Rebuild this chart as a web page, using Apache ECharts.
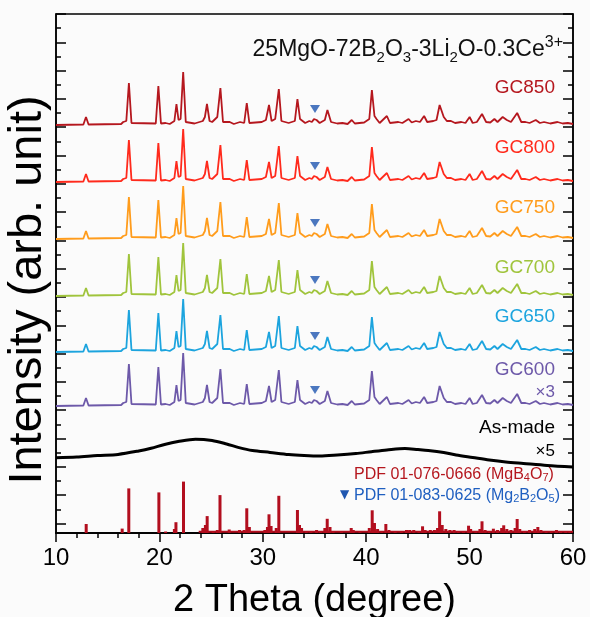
<!DOCTYPE html>
<html>
<head>
<meta charset="utf-8">
<script src="https://cdn.jsdelivr.net/npm/echarts@6/dist/echarts.min.js"></script>
<style>
html,body{margin:0;padding:0;background:#fff;}
#c{width:590px;height:617px;}
</style>
</head>
<body>
<div id="c"></div>
<script>
// ---------- DATA ----------
const xTicks = [10, 20, 30, 40, 50, 60];
const traceNames = ['GC850', 'GC800', 'GC750', 'GC700', 'GC650', 'GC600'];
const traceOffsets = [408, 351, 294, 237, 181, 127];          // baseline of each pattern (arb. units)
const traceColors = ['#b5171e', '#ff2a1c', '#ff9c1c', '#a0c43c', '#1ca4de', '#6d59a9'];
// crystallized pattern profile: [2theta, intensity above baseline]
const gcProfile = [
  [10,0],[12.65,0.5],[12.9,8],[13.15,0.5],
  [16.3,1],[16.5,3],[16.8,4],[17.05,42],[17.3,2],
  [19.65,1.5],[19.9,39],[20.15,1.5],[20.6,2],[21.0,1],
  [21.45,4],[21.65,21],[21.85,5],[22.05,6],[22.3,53],[22.55,3],
  [23.4,1.5],[24.2,4],[24.4,8],[24.6,21],[24.85,4],[25.1,3],[25.6,8],[25.9,37],[26.15,3],
  [26.8,3],[27.2,1],[27.8,3],[28.2,2],[28.45,22],[28.7,2],
  [29.9,3],[30.3,5],[30.6,20],[30.85,4],[31.2,6],[31.55,36],[31.8,4],
  [32.5,2],[33.1,4],[33.35,26],[33.6,6],[33.75,5],[34.1,2],[34.5,4],[34.75,3],[34.95,6],[35.2,5],[35.5,2],[36.0,5],[36.25,15],[36.6,3],
  [37.2,1.5],[37.7,2],[38.2,1],[38.6,5],[38.9,1.5],
  [39.8,2.5],[40.3,6],[40.55,35],[40.8,9],[41.0,6],[41.3,2],[42.0,9],[42.3,2],
  [43.1,3],[43.5,2],[44.1,6],[44.4,2.5],[44.8,4],[45.2,3],[45.6,9],[45.9,3],[46.5,4],[46.8,5],[47.1,20],[47.5,8],[47.8,4],[48.2,4],[48.6,2],
  [49.2,3],[49.6,2],[50.0,8],[50.3,2],[50.7,3],[51.2,11],[51.6,3],[52.0,2.5],[52.4,6],[52.7,3],[53.2,8],[53.6,5],[54.0,3],[54.6,12],[55.0,3],
  [55.4,3],[55.8,2],[56.4,5],[56.8,2],[57.2,3],[57.8,1.5],[58.5,3],[59.0,1.5],[59.5,2],[60,1]
];
const mg2b2o5Peak = [35.05, 16];  // [2theta, height above baseline] of the ▼ mark
// as-made glass (x5)
const asMadeTheta = [10,12,14,16,18,19.2,20.5,21.8,23.5,25.1,26.5,27.7,29,30.7,32.5,34,35.5,37.2,39,40.5,42,43.75,45,46,47.5,48.7,50.3,51.9,53.5,55.2,57.5,60];
const asMadeInt   = [75.2,76,77.5,78.6,82,84.7,88.5,91.4,93.8,92.5,89,85.4,82.5,80.6,78.5,77.5,77,78,79.5,81.3,83,84.5,83.5,82.6,80.5,78,75.5,73,71,69.5,67.5,66];
// PDF 01-076-0666 (MgB4O7) stick pattern
const pdfSticks = [
  [12.92,9],[16.4,4.4],[17.04,44.6],[19.95,40.6],[20.6,1.5],[21.45,4],[21.6,10.8],[22.33,51.4],[24.2,5],[24.45,8],[24.62,16.9],
  [25.2,2],[25.6,3],[25.86,37.9],[26.75,3.5],[27.75,3],[28.2,3],[28.45,24.7],[28.7,6],[30.2,3],[30.45,6],[30.6,18.7],[30.8,7],
  [31.3,5],[31.55,37.2],[33.35,23],[33.55,8],[33.75,5],[34.2,2],[34.65,2],[35.2,3],[35.6,2],[36.0,5],[36.23,14.2],[36.5,6],[36.8,2],
  [37.6,2],[38.55,5],[38.75,3],[39.4,2],[40.3,5],[40.58,22.7],[40.8,10],[41.1,4],[41.5,2],[41.9,9],[42.2,3],[42.8,2],[43.4,2],
  [43.9,3],[44.2,3],[44.6,3],[45.1,2],[45.45,6.7],[45.7,3],[46.2,3],[46.6,3],[46.9,5],[47.1,21.7],[47.35,8],[47.7,4],[48.1,3],
  [48.5,3],[48.9,2],[49.4,2],[49.9,7.3],[50.1,4],[50.6,2],[51.0,4],[51.2,11.7],[51.5,3],[51.9,2],[52.3,4.3],[52.7,3],[53.1,5],
  [53.3,7.7],[53.6,4],[54.0,3],[54.4,5],[54.6,14],[54.85,4],[55.3,2],[55.8,3],[56.3,4],[56.6,6],[56.9,3],[57.4,2],[57.9,2],
  [58.4,3],[58.8,2],[59.3,2],[59.7,2]
];
const pdfFloor = [[23.8,1.2],[60,1.2]];
const yMax = 519, yMajorStep = 28.3;

// ---------- BUILD ----------
const FONT = '"Liberation Sans", Arial, sans-serif';
const yMajors = [], yMinors = [];
for (let v = yMax; v >= 0; v -= yMajorStep) yMajors.push(+v.toFixed(2));
for (let v = yMax - yMajorStep / 2; v >= 0; v -= yMajorStep) yMinors.push(+v.toFixed(2));

const series = [];
traceNames.forEach((n, i) => {
  series.push({
    name: n, type: 'line', showSymbol: false, symbol: 'none', animation: false,
    data: gcProfile.map(p => [p[0], traceOffsets[i] + p[1]]),
    lineStyle: { color: traceColors[i], width: 1.8 }, z: 3
  });
});
series.push({
  name: 'Mg2B2O5', type: 'scatter', symbol: 'triangle', symbolRotate: 180, symbolSize: [10, 8],
  itemStyle: { color: '#1f56b0' }, animation: false, z: 5,
  data: traceOffsets.map(o => [mg2b2o5Peak[0], o + mg2b2o5Peak[1]])
});
series.push({
  name: 'As-made', type: 'line', showSymbol: false, symbol: 'none', animation: false, smooth: 0.3,
  data: asMadeTheta.map((t, i) => [t, asMadeInt[i]]),
  lineStyle: { color: '#000', width: 3 }
});
series.push({
  name: 'PDF 01-076-0666', type: 'bar', barWidth: 3, animation: false, barGap: '-100%',
  data: pdfSticks, itemStyle: { color: '#b20e1e' }
});
series.push({
  name: 'floor', type: 'line', showSymbol: false, symbol: 'none', animation: false,
  data: pdfFloor, lineStyle: { color: '#b20e1e', width: 2 }
});

function yAx(pos, ticks, len, extra) {
  return Object.assign({
    type: 'value', min: 0, max: yMax, position: pos, gridIndex: 0,
    axisLine: { show: false },
    axisTick: { show: true, inside: true, length: len, customValues: ticks, lineStyle: { color: '#000', width: 1.5 } },
    axisLabel: { show: false }, splitLine: { show: false }
  }, extra || {});
}

const option = {
  backgroundColor: '#fbfbfb',
  animation: false,
  grid: { left: 56, top: 14, width: 517, height: 519, show: true, borderColor: '#000', borderWidth: 1.5, backgroundColor: 'transparent', outerBoundsMode: 'none' },
  xAxis: [
    {
      type: 'value', min: xTicks[0], max: xTicks[xTicks.length - 1], interval: 10, position: 'bottom',
      axisLine: { show: true, lineStyle: { color: '#000', width: 1.5 } },
      axisTick: { show: true, inside: false, length: 9, lineStyle: { color: '#000', width: 1.5 } },
      minorTick: { show: true, splitNumber: 5, length: 5, lineStyle: { color: '#000', width: 1.5 } },
      axisLabel: { fontSize: 24, color: '#000', margin: 13, fontFamily: FONT },
      splitLine: { show: false },
      name: '2 Theta (degree)', nameLocation: 'middle', nameGap: 49,
      nameTextStyle: { fontSize: 38, color: '#000', fontFamily: FONT }
    },
    {
      type: 'value', min: xTicks[0], max: xTicks[xTicks.length - 1], interval: 10, position: 'top',
      axisLine: { show: true, lineStyle: { color: '#000', width: 1.5 } },
      axisTick: { show: true, inside: true, length: 6, lineStyle: { color: '#000', width: 1.5 } },
      minorTick: { show: true, splitNumber: 5, length: 4, lineStyle: { color: '#000', width: 1.5 } },
      axisLabel: { show: false }, splitLine: { show: false }
    }
  ],
  yAxis: [
    yAx('left', yMajors, 10, { axisLine: { show: true, lineStyle: { color: '#000', width: 1.5 } } }),
    yAx('left', yMinors, 5),
    yAx('right', yMajors, 10, { axisLine: { show: true, lineStyle: { color: '#000', width: 1.5 } } }),
    yAx('right', yMinors, 5)
  ],
  series: series,
  graphic: [
    { type: 'text', x: 28, y: 290, rotation: Math.PI / 2, style: {
        text: 'Intensity (arb. unit)', align: 'center', verticalAlign: 'middle', fill: '#000', font: '47px ' + FONT
    } },
    { type: 'text', x: 563, y: 50, style: {
        text: '25MgO-72B{s|2}O{s|3}-3Li{s|2}O-0.3Ce{p|3+}', align: 'right', verticalAlign: 'middle',
        fill: '#111', font: '23px ' + FONT,
        rich: { s: { fontSize: 15, fontFamily: FONT, verticalAlign: 'bottom', lineHeight: 25 }, p: { fontSize: 16, fontFamily: FONT, verticalAlign: 'top', lineHeight: 31 } }
    } },
    ...traceNames.map((n, i) => ({
      type: 'text', x: 555, y: [88, 148, 208, 268, 317, 370][i],
      style: { text: n, align: 'right', verticalAlign: 'middle', fill: traceColors[i], font: '19px ' + FONT }
    })),
    { type: 'text', x: 555, y: 392, style: { text: '×3', align: 'right', verticalAlign: 'middle', fill: traceColors[5], font: '17px ' + FONT } },
    { type: 'text', x: 555, y: 428, style: { text: 'As-made', align: 'right', verticalAlign: 'middle', fill: '#000', font: '19px ' + FONT } },
    { type: 'text', x: 555, y: 451, style: { text: '×5', align: 'right', verticalAlign: 'middle', fill: '#000', font: '17px ' + FONT } },
    { type: 'text', x: 354, y: 475, style: {
        text: 'PDF 01-076-0666 (MgB{s|4}O{s|7})', align: 'left', verticalAlign: 'middle', fill: '#b5171e', font: '16px ' + FONT,
        rich: { s: { fontSize: 11, fill: '#b5171e', fontFamily: FONT, verticalAlign: 'bottom', lineHeight: 17 } }
    } },
    { type: 'text', x: 340, y: 495, style: { text: '▼', align: 'left', verticalAlign: 'middle', fill: '#1f56b0', font: '12px "DejaVu Sans"' } },
    { type: 'text', x: 354, y: 496, style: {
        text: 'PDF 01-083-0625 (Mg{s|2}B{s|2}O{s|5})', align: 'left', verticalAlign: 'middle', fill: '#1f5fc0', font: '16px ' + FONT,
        rich: { s: { fontSize: 11, fill: '#1f5fc0', fontFamily: FONT, verticalAlign: 'bottom', lineHeight: 17 } }
    } }
  ]
};
const chart = echarts.init(document.getElementById('c'), null, { renderer: 'canvas' });
chart.setOption(option);
</script>
</body>
</html>
